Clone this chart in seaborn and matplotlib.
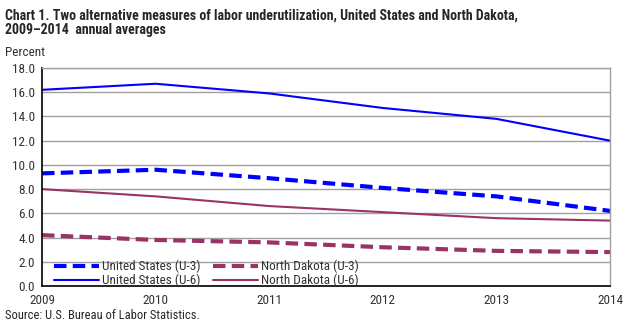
import matplotlib
matplotlib.use("Agg")
import matplotlib.pyplot as plt
import seaborn as sns
import pandas as pd

years = [2009, 2010, 2011, 2012, 2013, 2014]
us_u3 = [9.3, 9.6, 8.9, 8.1, 7.4, 6.2]
nd_u3 = [4.2, 3.8, 3.6, 3.2, 2.9, 2.8]
us_u6 = [16.2, 16.7, 15.9, 14.7, 13.8, 12.0]
nd_u6 = [8.0, 7.4, 6.6, 6.1, 5.6, 5.4]
yticks = [0, 2, 4, 6, 8, 10, 12, 14, 16, 18]

sns.set_theme(style="white")
plt.rcParams["font.family"] = ["Roboto Condensed", "Archivo Narrow", "DejaVu Sans"]

fig = plt.figure(figsize=(6.33, 3.29), dpi=100)
ax = fig.add_axes([0.0664, 0.1307, 0.8973, 0.6626])

BLUE = "#0000FF"
MAROON = "#993366"
series = [
    ("United States (U-3)", us_u3, BLUE, (0, (3, 1.5)), 3.0),
    ("United States (U-6)", us_u6, BLUE, "-", 1.5),
    ("North Dakota (U-3)", nd_u3, MAROON, (0, (3, 1.5)), 3.0),
    ("North Dakota (U-6)", nd_u6, MAROON, "-", 1.5),
]
for label, vals, color, ls, lw in series:
    df = pd.DataFrame({"year": years, "value": vals})
    sns.lineplot(data=df, x="year", y="value", ax=ax, color=color,
                 linestyle=ls, linewidth=lw, label=label)

ax.set_xlim(2009, 2014)
ax.set_ylim(0, 18)
ax.set_yticks(yticks)
ax.set_yticklabels([f"{v:.1f}" for v in yticks])
ax.set_xticks(years)
ax.set_xticklabels([str(y) for y in years])
ax.set_xlabel("")
ax.set_ylabel("")
ax.yaxis.grid(True, color="#A0A0A0", linewidth=1)
ax.set_axisbelow(True)
for s in ["top", "right"]:
    ax.spines[s].set_color("#A0A0A0")
    ax.spines[s].set_linewidth(1)
for s in ["left", "bottom"]:
    ax.spines[s].set_color("black")
    ax.spines[s].set_linewidth(1.2)
ax.tick_params(axis="both", labelsize=9.5, colors="#333333", length=0, pad=5)
ax.tick_params(axis="x", pad=6)

leg = ax.legend(loc="lower left", ncol=2, frameon=False, fontsize=9.5,
                handlelength=3.4, handletextpad=0.25, columnspacing=0.9,
                labelspacing=0.05, borderaxespad=0.0, bbox_to_anchor=(0.012, -0.03))
for t in leg.get_texts():
    t.set_color("#333333")

fig.text(0.008, 0.975, "Chart 1. Two alternative measures of labor underutilization, United States and North Dakota,\n2009–2014  annual averages",
         fontsize=10, fontweight="bold", va="top", ha="left", linespacing=1.1)
fig.text(0.008, 0.84, "Percent", fontsize=9.5, va="center", ha="left", color="#333333")
fig.text(0.008, 0.04, "Source: U.S. Bureau of Labor Statistics.", fontsize=9, va="center", ha="left")

fig.savefig("out.png", dpi=100)
